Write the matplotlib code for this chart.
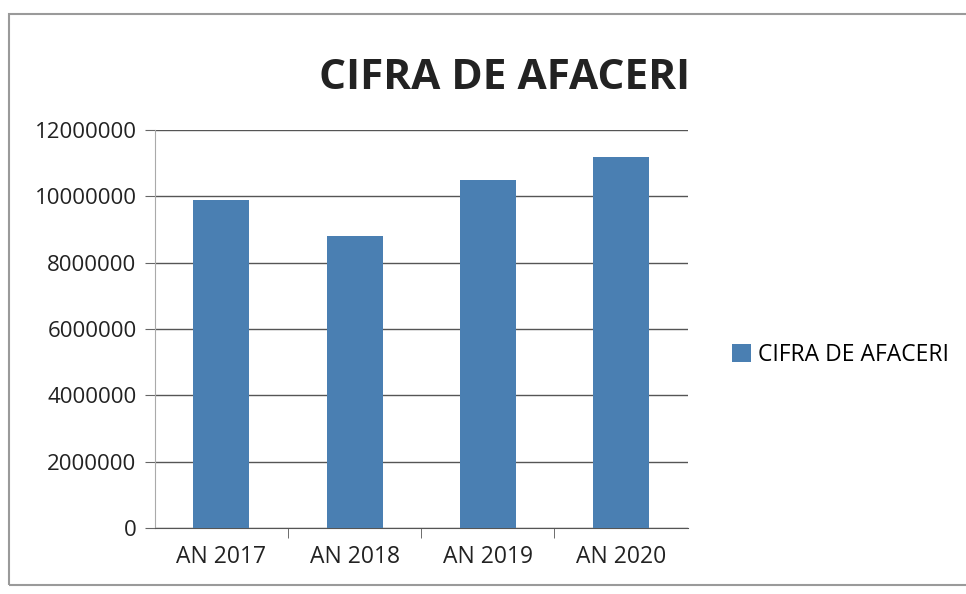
import matplotlib.pyplot as plt
from matplotlib.patches import Rectangle

categories = ['AN 2017', 'AN 2018', 'AN 2019', 'AN 2020']
values = [9900000, 8800000, 10500000, 11200000]
yticks = [0, 2000000, 4000000, 6000000, 8000000, 10000000, 12000000]
series_name = 'CIFRA DE AFACERI'

plt.rcParams['font.family'] = ['Open Sans', 'DejaVu Sans']

fig = plt.figure(figsize=(9.66, 5.94), dpi=100)
fig.patches.append(Rectangle((0.009, 0.015), 0.995, 0.962, transform=fig.transFigure,
                             fill=False, edgecolor='#9a9a9a', linewidth=1.5))

ax = fig.add_axes([0.160, 0.111, 0.552, 0.670])
x = range(len(categories))
ax.bar(x, values, width=0.42, color='#4a7fb2', label=series_name, zorder=3)

ax.set_xlim(-0.5, len(categories) - 0.5)
ax.set_ylim(0, 12000000)
ax.set_yticks(yticks)
ax.set_yticklabels([str(v) for v in yticks], fontsize=16, color='#222222')
ax.set_xticks(list(x))
ax.set_xticklabels(categories, fontsize=16.5, color='#222222')
ax.tick_params(axis='x', length=0, pad=12)
ax.tick_params(axis='y', length=7, color='#666666', pad=6)
# category boundary ticks
ax.set_xticks([i + 0.5 for i in range(len(categories) - 1)], minor=True)
ax.tick_params(axis='x', which='minor', length=7, color='#555555')

ax.grid(axis='y', color='#555555', linewidth=1.0, zorder=0)
for side in ['top', 'right']:
    ax.spines[side].set_visible(False)
ax.spines['left'].set_color('#aaaaaa')
ax.spines['bottom'].set_color('#555555')

fig.text(0.522, 0.868, 'CIFRA DE AFACERI', ha='center', va='center',
         fontsize=30.5, fontweight='bold', color='#222222')

ax.legend(loc='center left', bbox_to_anchor=(1.045, 0.435), frameon=False,
          fontsize=16.5, handlelength=0.8, handleheight=0.8, handletextpad=0.3)

plt.savefig('out.png', dpi=100)
